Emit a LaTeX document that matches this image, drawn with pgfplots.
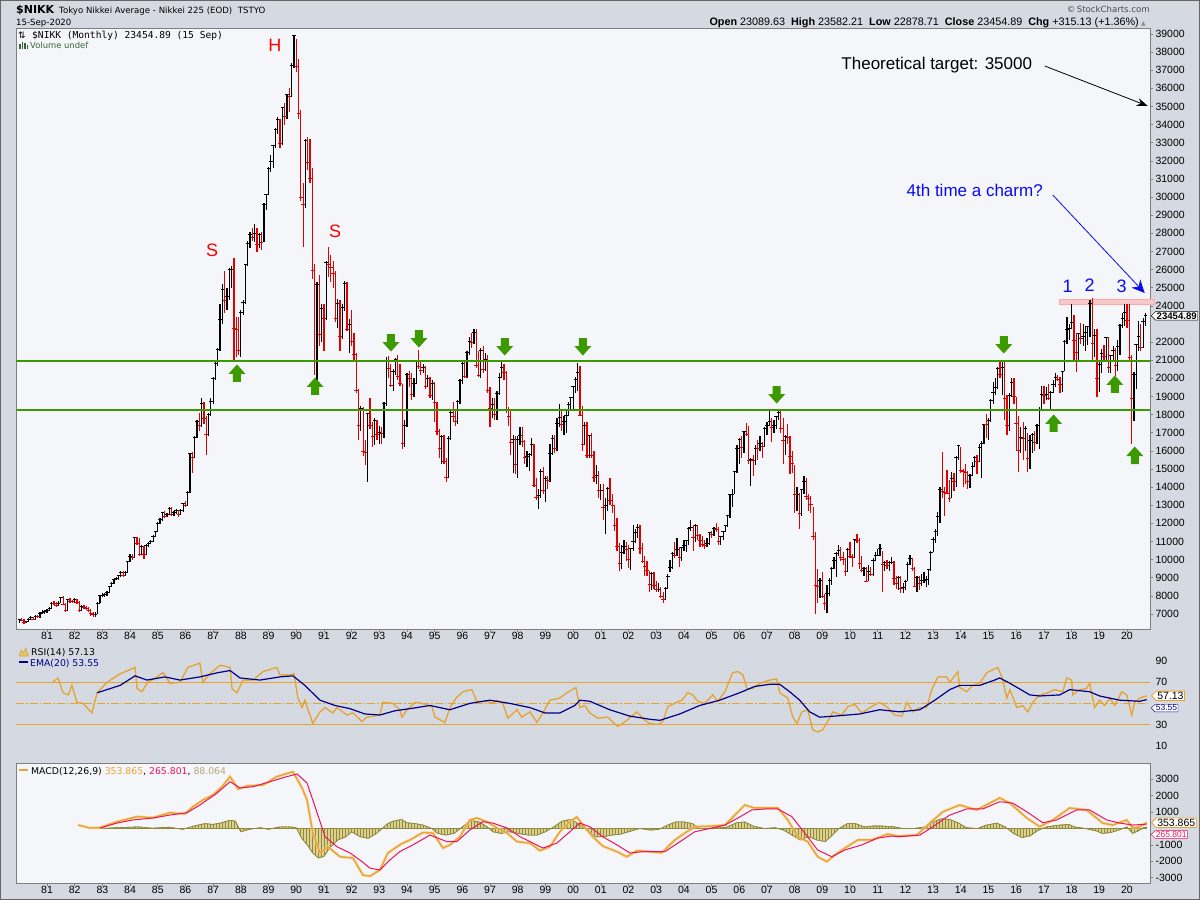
\documentclass[border=0pt]{standalone}
\usepackage{pgfplots}
\pgfplotsset{compat=1.18}
\usepackage{pgfplotstable}
\usepgfplotslibrary{fillbetween}
\usetikzlibrary{shapes.symbols,patterns,arrows.meta}
\usepackage{fontspec}
\setmainfont{Liberation Sans}
\newfontfamily\dejavu{DejaVu Sans}
\newfontfamily\dmono{DejaVu Sans Mono}

\definecolor{outerbg}{HTML}{D5D9E2}
\definecolor{panelbg}{HTML}{F5F6FA}
\definecolor{framec}{HTML}{7F7F7F}
\definecolor{lgreen}{HTML}{3A9A00}
\definecolor{barred}{HTML}{E00000}
\definecolor{rsicol}{HTML}{E6A42E}
\definecolor{rsifill}{HTML}{D8C57C}
\definecolor{emacol}{HTML}{00008B}
\definecolor{macdcol}{HTML}{E8A530}
\definecolor{sigcol}{HTML}{F0125A}
\definecolor{histedge}{HTML}{8F8A3A}
\definecolor{histfill}{HTML}{DDD294}
\definecolor{pinkfill}{HTML}{F7C8CA}
\definecolor{textblue}{HTML}{0A0AF0}
\definecolor{volgreen}{HTML}{336633}

\pgfplotstableread{
Y M H L C D
1980 1 6750 6520 6700 0
1980 2 6780 6600 6670 1
1980 3 6700 6450 6520 1
1980 4 6640 6480 6580 0
1980 5 6760 6550 6700 0
1980 6 6870 6680 6800 0
1980 7 6850 6650 6710 1
1980 8 6920 6690 6860 0
1980 9 6930 6790 6840 1
1980 10 7100 6800 7050 0
1980 11 7200 7000 7110 0
1980 12 7200 7000 7116 0
1981 1 7280 7080 7220 0
1981 2 7400 7180 7320 0
1981 3 7650 7300 7600 0
1981 4 7720 7500 7560 1
1981 5 7640 7400 7450 1
1981 6 7700 7420 7600 0
1981 7 7950 7580 7900 0
1981 8 8020 7500 7550 1
1981 9 7600 7100 7200 1
1981 10 7850 7150 7800 0
1981 11 7900 7620 7700 1
1981 12 7800 7600 7681 1
1982 1 7880 7600 7800 0
1982 2 7850 7560 7650 1
1982 3 7700 7100 7200 1
1982 4 7480 7180 7400 0
1982 5 7500 7300 7350 1
1982 6 7420 7200 7300 1
1982 7 7360 7120 7200 1
1982 8 7250 6900 7050 1
1982 9 7100 6850 6950 1
1982 10 7100 6850 7000 0
1982 11 7650 6980 7600 0
1982 12 8050 7580 8016 0
1983 1 8150 7950 8050 0
1983 2 8150 7950 8060 0
1983 3 8260 8000 8200 0
1983 4 8540 8180 8500 0
1983 5 8760 8480 8700 0
1983 6 8950 8680 8900 0
1983 7 9050 8850 8950 0
1983 8 9150 8900 9100 0
1983 9 9380 9050 9300 0
1983 10 9400 9050 9150 1
1983 11 9380 9100 9300 0
1983 12 9920 9250 9894 0
1984 1 10300 9880 10200 0
1984 2 10300 10000 10100 1
1984 3 11250 10080 11200 0
1984 4 11250 10800 10900 1
1984 5 11190 10200 10300 1
1984 6 10800 10250 10700 0
1984 7 10750 10050 10300 1
1984 8 10850 10250 10800 0
1984 9 10980 10700 10900 0
1984 10 11100 10850 11000 0
1984 11 11380 10950 11300 0
1984 12 11600 11250 11542 0
1985 1 12050 11500 11990 0
1985 2 12300 11950 12200 0
1985 3 12650 12150 12580 0
1985 4 12700 12300 12400 1
1985 5 12600 12350 12500 0
1985 6 12880 12450 12800 0
1985 7 12900 12400 12500 1
1985 8 12700 12400 12600 0
1985 9 12800 12500 12700 0
1985 10 12750 12350 12500 1
1985 11 12800 12450 12700 0
1985 12 13150 12650 13113 0
1986 1 13250 12900 13000 1
1986 2 13800 12950 13700 0
1986 3 15900 13650 15860 0
1986 4 15950 14800 15660 1
1986 5 16800 15600 16760 0
1986 6 17700 16700 17600 0
1986 7 18100 17100 17400 1
1986 8 18900 17300 18600 0
1986 9 18700 17500 17800 1
1986 10 17900 15800 16900 1
1986 11 18100 16800 18000 0
1986 12 18900 17900 18700 0
1987 1 20100 18600 20000 0
1987 2 20900 19900 20800 0
1987 3 21700 20700 21600 0
1987 4 24100 21500 23270 0
1987 5 25200 23000 24900 0
1987 6 25900 23600 24300 1
1987 7 25000 23800 24500 0
1987 8 26100 24300 26000 0
1987 9 26200 25000 26010 0
1987 10 26650 21000 22770 1
1987 11 23400 21200 22690 1
1987 12 23400 21300 21560 1
1988 1 23800 21200 23620 0
1988 2 24300 23500 24200 0
1988 3 26300 24100 26260 0
1988 4 27600 26200 27430 0
1988 5 28100 27200 27920 0
1988 6 28300 27600 27770 1
1988 7 28500 27500 28000 0
1988 8 28300 27000 27370 1
1988 9 28000 27200 27920 0
1988 10 28100 27100 27500 1
1988 11 29700 27500 29580 0
1988 12 30200 29300 30160 0
1989 1 31650 30100 31580 0
1989 2 32300 31400 31980 0
1989 3 32900 31600 32840 0
1989 4 33800 32700 33710 0
1989 5 34400 33500 34270 0
1989 6 34300 32700 32950 1
1989 7 35000 32900 34950 0
1989 8 35200 34000 34430 1
1989 9 35700 34300 35640 0
1989 10 36000 34700 35550 1
1989 11 37400 35500 37270 0
1989 12 38957 37100 38916 0
1990 1 38700 36900 37190 1
1990 2 37600 34300 34590 1
1990 3 34800 29800 29980 1
1990 4 30800 27250 29580 1
1990 5 33200 29400 33130 0
1990 6 33300 31500 31940 1
1990 7 33200 30800 31035 1
1990 8 31600 25500 25980 1
1990 9 26300 20200 20980 1
1990 10 25300 19780 25190 0
1990 11 25700 21800 22450 1
1990 12 24100 22000 23850 0
1991 1 24100 21500 23290 1
1991 2 26500 23200 26410 0
1991 3 27270 25600 26290 1
1991 4 26800 25300 26110 1
1991 5 26500 25000 25790 1
1991 6 25900 23100 23290 1
1991 7 24400 22800 24120 0
1991 8 24300 21500 22340 1
1991 9 24100 22200 23920 0
1991 10 25400 23700 25220 0
1991 11 25300 22600 22690 1
1991 12 23300 21400 22980 0
1992 1 23800 21800 22020 1
1992 2 22500 20900 21340 1
1992 3 21400 19200 19350 1
1992 4 19400 16600 17390 1
1992 5 18500 17100 18350 0
1992 6 18400 15700 15950 1
1992 7 16600 15200 15910 1
1992 8 18100 14310 18060 0
1992 9 18900 17200 17400 1
1992 10 17600 16200 16770 1
1992 11 17800 16300 17680 0
1992 12 17700 16600 16920 1
1993 1 17400 16400 17020 0
1993 2 17300 16400 16950 1
1993 3 18700 16700 18590 0
1993 4 21200 18500 20920 0
1993 5 21250 20000 20550 1
1993 6 20800 19500 19590 1
1993 7 20500 19300 20380 0
1993 8 21150 20200 21030 0
1993 9 21280 19900 20110 1
1993 10 20800 19600 19700 1
1993 11 19700 16080 16410 1
1993 12 17700 16200 17420 0
1994 1 20300 17300 20230 0
1994 2 20400 19500 20000 1
1994 3 20300 18800 19110 1
1994 4 20000 19000 19730 0
1994 5 21000 19700 20970 0
1994 6 21570 20500 20640 1
1994 7 20900 20200 20450 1
1994 8 20800 20300 20630 0
1994 9 20700 19400 19560 1
1994 10 20200 19500 19990 0
1994 11 20100 18900 19080 1
1994 12 19900 18800 19720 0
1995 1 19800 17600 18650 1
1995 2 18700 16900 17050 1
1995 3 17200 15600 16140 1
1995 4 16900 15300 16810 0
1995 5 16900 15300 15440 1
1995 6 15600 14300 14520 1
1995 7 16800 14500 16680 0
1995 8 18200 16600 18120 0
1995 9 18700 17600 17910 1
1995 10 18200 17400 17650 1
1995 11 18800 17500 18740 0
1995 12 19950 18600 19870 0
1996 1 20900 19700 20810 0
1996 2 21000 20000 20130 1
1996 3 21500 20000 21410 0
1996 4 22300 21300 22040 0
1996 5 22500 21700 21960 1
1996 6 22750 21900 22530 0
1996 7 22700 20600 20690 1
1996 8 21500 20100 20170 1
1996 9 21700 20000 21560 0
1996 10 21800 20300 20470 1
1996 11 21400 20400 21020 0
1996 12 21300 19200 19360 1
1997 1 19500 17300 18330 1
1997 2 18900 17800 18560 0
1997 3 18900 17700 18000 1
1997 4 19300 17700 19150 0
1997 5 20300 19100 20070 0
1997 6 20900 20000 20600 0
1997 7 20800 19900 20330 1
1997 8 20400 18100 18230 1
1997 9 18400 17400 17890 1
1997 10 18200 15800 16460 1
1997 11 16900 14800 16640 0
1997 12 16800 14750 15260 1
1998 1 16800 14500 16630 0
1998 2 17300 16300 16830 0
1998 3 17300 16200 16530 1
1998 4 16600 15300 15640 1
1998 5 16000 15100 15670 0
1998 6 15900 14900 15830 0
1998 7 16700 15700 16380 0
1998 8 16400 14000 14110 1
1998 9 14500 13300 13410 1
1998 10 13900 12790 13560 0
1998 11 15000 13400 14880 0
1998 12 15100 13600 13840 1
1999 1 14600 13200 14500 0
1999 2 14600 13900 14370 1
1999 3 16400 14300 15840 0
1999 4 16900 15800 16700 0
1999 5 16900 15900 16110 1
1999 6 17800 16000 17530 0
1999 7 18600 17300 17860 0
1999 8 18300 17100 17440 1
1999 9 17900 16900 17610 0
1999 10 18200 17000 17940 0
1999 11 18700 17900 18560 0
1999 12 19000 18300 18930 0
2000 1 19600 18200 19540 0
2000 2 20100 19200 19960 0
2000 3 20830 19300 20340 0
2000 4 20700 17900 17970 1
2000 5 18500 16000 16330 1
2000 6 17600 16300 17410 0
2000 7 17600 15600 15730 1
2000 8 16900 15600 16860 0
2000 9 17000 15600 15750 1
2000 10 16000 14300 14540 1
2000 11 15200 14200 14650 0
2000 12 14900 13400 13790 1
2001 1 14200 13300 13840 0
2001 2 14200 12200 12880 1
2001 3 13400 11430 13000 0
2001 4 14000 12700 13930 0
2001 5 14500 13000 13260 1
2001 6 13600 12600 12970 1
2001 7 13000 11600 11860 1
2001 8 12300 10500 10710 1
2001 9 10900 9380 9770 1
2001 10 10800 9500 10370 0
2001 11 11100 10300 10700 0
2001 12 11000 9900 10540 1
2002 1 10800 9550 10000 1
2002 2 10600 9420 10590 0
2002 3 11900 10500 11020 0
2002 4 11700 10900 11490 0
2002 5 11980 11200 11760 0
2002 6 11900 10300 10620 1
2002 7 10900 9800 9880 1
2002 8 10200 9070 9620 1
2002 9 9900 9100 9380 1
2002 10 9400 8200 8640 1
2002 11 9300 8300 9220 0
2002 12 9300 8400 8580 1
2003 1 8800 8200 8340 1
2003 2 8700 8200 8360 0
2003 3 8500 7860 7970 1
2003 4 8200 7600 7830 1
2003 5 8500 7800 8420 0
2003 6 9200 8400 9080 0
2003 7 10000 9300 9560 0
2003 8 10400 9500 10340 0
2003 9 11000 10100 10220 1
2003 10 11200 10200 10560 0
2003 11 10700 9600 10100 1
2003 12 10700 9900 10680 0
2004 1 11100 10500 10780 0
2004 2 11100 10400 11040 0
2004 3 11800 10800 11720 0
2004 4 12200 11600 11760 0
2004 5 11900 10500 11240 1
2004 6 11990 11000 11860 0
2004 7 11900 11100 11330 1
2004 8 11400 10700 11080 1
2004 9 11300 10700 10820 1
2004 10 11100 10600 10770 1
2004 11 11200 10700 10900 0
2004 12 11500 10800 11490 0
2005 1 11600 11200 11390 1
2005 2 11800 11300 11740 0
2005 3 12000 11500 11670 1
2005 4 11800 10800 11010 1
2005 5 11300 10800 11280 0
2005 6 11600 11100 11580 0
2005 7 11900 11500 11900 0
2005 8 12450 11800 12410 0
2005 9 13600 12300 13570 0
2005 10 13900 12900 13610 0
2005 11 14900 13600 14870 0
2005 12 16300 14800 16110 0
2006 1 16700 15300 16650 0
2006 2 16800 15600 16210 1
2006 3 17100 15900 17060 0
2006 4 17560 16800 16910 1
2006 5 17400 15300 15470 1
2006 6 15600 14050 15510 0
2006 7 15800 14600 15460 1
2006 8 16300 15200 16140 0
2006 9 16600 15500 16130 1
2006 10 16800 16000 16400 0
2006 11 16500 15600 16270 1
2006 12 17300 16200 17230 0
2007 1 17600 16900 17380 0
2007 2 18300 17400 17600 0
2007 3 17800 16500 17290 1
2007 4 17700 17000 17400 0
2007 5 17900 17200 17880 0
2007 6 18300 17700 18140 0
2007 7 18300 17000 17250 1
2007 8 17800 15270 16570 1
2007 9 16900 15800 16790 0
2007 10 17500 16400 16740 1
2007 11 16800 14700 15680 1
2007 12 16000 14800 15310 1
2008 1 15200 12570 13590 1
2008 2 14000 12700 13600 0
2008 3 13700 11700 12530 1
2008 4 13900 12400 13850 0
2008 5 14600 13600 14340 0
2008 6 14500 13300 13480 1
2008 7 13600 12700 13380 1
2008 8 13500 12600 13070 1
2008 9 12900 11100 11260 1
2008 10 11500 6990 8580 1
2008 11 9500 7600 8510 1
2008 12 9000 7900 8860 0
2009 1 9300 7900 7990 1
2009 2 8100 7200 7570 1
2009 3 8600 7050 8110 0
2009 4 9000 8000 8830 0
2009 5 9600 8600 9520 0
2009 6 10170 9500 9960 0
2009 7 10400 9050 10360 0
2009 8 10800 10200 10490 0
2009 9 10700 9900 10130 1
2009 10 10400 9700 10030 1
2009 11 10100 9080 9350 1
2009 12 10650 9300 10550 0
2010 1 10980 10100 10200 1
2010 2 10300 9600 10130 1
2010 3 11100 10100 11090 0
2010 4 11400 10900 11060 1
2010 5 11200 9500 9770 1
2010 6 10200 9300 9380 1
2010 7 9600 9100 9540 0
2010 8 9600 8800 8820 1
2010 9 9700 8800 9370 0
2010 10 9600 9100 9200 1
2010 11 10100 9100 9940 0
2010 12 10400 9900 10230 0
2011 1 10600 10200 10240 0
2011 2 10860 10200 10620 0
2011 3 10500 8230 9760 1
2011 4 9900 9400 9850 0
2011 5 10000 9500 9690 1
2011 6 9900 9350 9820 0
2011 7 10140 9750 9830 0
2011 8 9900 8600 8960 1
2011 9 9100 8400 8700 1
2011 10 9100 8350 8990 0
2011 11 9100 8140 8430 1
2011 12 8700 8150 8460 0
2012 1 8900 8300 8800 0
2012 2 9870 8800 9720 0
2012 3 10250 9700 10080 0
2012 4 10100 9400 9520 1
2012 5 9600 8500 8540 1
2012 6 9100 8240 9010 0
2012 7 9100 8350 8700 1
2012 8 9200 8550 8840 0
2012 9 9290 8700 8870 0
2012 10 9100 8500 8930 0
2012 11 9500 8600 9450 0
2012 12 10450 9400 10400 0
2013 1 11250 10400 11140 0
2013 2 11700 10900 11560 0
2013 3 12650 11300 12400 0
2013 4 14000 12000 13860 0
2013 5 15940 13400 13770 1
2013 6 14000 12400 13680 1
2013 7 14950 13600 13670 1
2013 8 14400 13200 13390 1
2013 9 14820 13400 14460 0
2013 10 14800 13800 14330 1
2013 11 15700 14000 15660 0
2013 12 16320 15500 16290 0
2014 1 16200 14800 14910 1
2014 2 15000 13990 14840 1
2014 3 15300 14200 14830 1
2014 4 14900 13900 14300 1
2014 5 14700 13960 14630 0
2014 6 15400 14600 15160 0
2014 7 15700 15100 15620 0
2014 8 15800 14750 15420 1
2014 9 16380 15400 16170 0
2014 10 16550 14530 16410 0
2014 11 17500 16400 17460 0
2014 12 18030 16700 17450 1
2015 1 17800 16600 17670 0
2015 2 18850 17600 18800 0
2015 3 19800 18600 19210 0
2015 4 20000 19100 19520 0
2015 5 20650 19400 20560 0
2015 6 20950 20000 20240 1
2015 7 20900 19100 20590 0
2015 8 20950 17700 18890 1
2015 9 19100 16900 17390 1
2015 10 19200 17100 19080 0
2015 11 20000 19000 19750 0
2015 12 20000 18600 19030 1
2016 1 18950 16000 17520 1
2016 2 17900 14860 16030 1
2016 3 17300 15900 16760 0
2016 4 17600 15500 16670 1
2016 5 17400 16000 17230 0
2016 6 17000 14860 15580 1
2016 7 16900 15000 16570 0
2016 8 17000 15900 16890 0
2016 9 17100 16000 16450 1
2016 10 17500 16400 17430 0
2016 11 18400 16100 18310 0
2016 12 19600 18300 19110 0
2017 1 19600 18600 19040 1
2017 2 19500 18800 19120 0
2017 3 19700 18800 18910 1
2017 4 19300 18200 19200 0
2017 5 19900 19200 19650 0
2017 6 20300 19500 20030 0
2017 7 20200 19900 19930 1
2017 8 20100 19200 19650 1
2017 9 20400 19250 20360 0
2017 10 22100 20400 22010 0
2017 11 23380 21900 22720 0
2017 12 23000 22100 22760 0
2018 1 24130 22700 23100 0
2018 2 23500 20950 22070 1
2018 3 22500 20350 21450 1
2018 4 22500 21000 22470 0
2018 5 23050 21900 22200 1
2018 6 23000 21800 22300 0
2018 7 22900 21500 22550 0
2018 8 22900 21850 22870 0
2018 9 24300 22300 24120 0
2018 10 24450 20970 21920 1
2018 11 22700 21200 22350 0
2018 12 22700 18950 20010 1
2019 1 20900 19240 20770 0
2019 2 21600 20300 21390 0
2019 3 21860 20900 21210 1
2019 4 22300 21000 22260 0
2019 5 22300 20300 20600 1
2019 6 21300 20300 21280 0
2019 7 21800 21000 21520 0
2019 8 21700 20110 20700 1
2019 9 22100 20400 21760 0
2019 10 22980 21300 22930 0
2019 11 23600 22800 23290 0
2019 12 24100 22900 23660 0
2020 1 24120 22800 23210 1
2020 2 24080 20900 21140 1
2020 3 21300 16360 18920 1
2020 4 20370 17650 20190 0
2020 5 21900 19400 21880 0
2020 6 23180 21500 22290 0
2020 7 23000 21500 21710 1
2020 8 23340 21700 23140 0
2020 9 23582 22880 23455 0
}\price

\pgfplotstableread{
x v
1981.22 70.5
1981.40 74
1981.58 60
1981.77 58
1981.90 67
1982.08 51
1982.30 50
1982.62 41
1982.81 60
1983.17 70
1983.64 78
1983.92 81
1984.18 84
1984.25 64
1984.43 61
1984.61 69
1984.97 75
1985.19 79
1985.44 69
1985.80 70
1986.09 84
1986.52 88
1986.63 70
1986.88 78
1987.25 86
1987.61 84
1987.68 64
1987.86 60
1988.08 72
1988.44 72
1988.80 80
1989.30 84
1989.41 77
1989.77 77
1989.92 78
1990.06 55
1990.21 46
1990.31 53
1990.60 31
1990.86 42
1991.04 46
1991.32 41
1991.47 46
1991.83 39
1992.05 41
1992.37 33
1992.55 37
1993.02 39
1993.13 51
1993.49 50
1993.74 44
1993.82 37
1994.00 44
1994.29 51
1994.54 50
1994.90 47
1995.01 37
1995.37 32
1995.55 46
1995.80 56
1996.02 61
1996.34 63
1996.52 52
1996.88 52
1997.06 50
1997.25 53
1997.46 50
1997.64 36
1997.97 44
1998.15 37
1998.44 42
1998.69 32
1998.91 41
1999.16 53
1999.52 55
1999.77 60
2000.10 65
2000.24 46
2000.42 48
2000.60 41
2000.89 36
2001.25 37
2001.61 28
2001.94 34
2002.30 42
2002.59 34
2002.77 31
2003.06 30
2003.24 33
2003.42 47
2003.74 51
2003.92 53
2004.14 60
2004.32 58
2004.50 52
2004.75 50
2005.04 58
2005.22 52
2005.48 61
2005.76 79
2005.95 80
2006.13 77
2006.27 64
2006.49 64
2006.74 69
2007.10 72
2007.35 73
2007.46 60
2007.75 55
2007.93 37
2008.08 31
2008.26 42
2008.47 44
2008.65 25
2008.83 23
2009.01 25
2009.19 33
2009.38 42
2009.70 39
2009.92 47
2010.17 49
2010.42 41
2010.78 47
2011.07 51
2011.36 46
2011.61 39
2011.87 38
2012.05 51
2012.26 42
2012.52 46
2012.77 46
2012.95 63
2013.17 75
2013.49 75
2013.60 70
2013.89 80
2013.96 65
2014.21 61
2014.43 67
2014.68 69
2014.94 79
2015.33 84
2015.48 75
2015.66 55
2015.77 63
2016.02 46
2016.23 48
2016.42 42
2016.60 51
2016.85 58
2017.14 60
2017.39 63
2017.68 61
2017.82 74
2018.00 72
2018.04 58
2018.29 63
2018.54 64
2018.65 69
2018.83 46
2019.01 53
2019.19 48
2019.38 55
2019.56 48
2019.81 61
2019.99 58
2020.17 39
2020.28 51
2020.46 55
2020.71 57.13
}\rsi

\pgfplotstableread{
x v
1982.81 60
1983.64 67
1984.18 76
1984.61 72
1985.26 75
1985.80 72
1986.52 75
1987.17 79
1987.61 81
1987.97 74
1988.69 72
1989.41 75
1989.88 76
1990.31 67
1990.86 53
1991.40 48
1991.94 45
1992.48 40
1993.02 39
1993.56 43
1994.10 45
1994.83 48
1995.55 44
1996.27 50
1996.99 53
1997.71 50
1998.44 46
1998.98 41
1999.52 41
2000.06 48
2000.24 53
2000.60 52
2001.32 44
2002.04 38
2002.77 35
2003.13 34
2003.85 40
2004.57 48
2005.29 53
2006.01 60
2006.56 66
2007.10 68
2007.46 68
2007.82 61
2008.18 53
2008.54 42
2008.90 37
2009.44 38
2010.35 40
2011.07 44
2011.79 42
2012.52 44
2013.06 53
2013.60 63
2013.96 67
2014.68 67
2015.22 72
2015.40 74
2015.77 69
2016.49 58
2016.85 57
2017.57 58
2017.93 63
2018.65 61
2019.01 57
2019.74 53
2020.46 52
2020.71 53.55
}\ema

\pgfplotstableread{
x v
1982.12 213
1982.55 30
1982.91 50
1983.53 415
1984.25 720
1984.83 660
1985.44 963
1985.98 884
1986.27 1330
1986.63 1740
1986.99 2040
1987.32 2550
1987.61 3160
1987.90 2400
1988.22 2590
1988.80 2650
1989.30 3160
1989.88 3460
1990.21 2470
1990.39 1740
1990.60 -270
1990.86 -1490
1991.14 -1110
1991.58 -1720
1992.05 -1800
1992.41 -2840
1992.66 -2900
1993.02 -2530
1993.31 -1490
1993.78 -950
1994.10 -700
1994.57 -250
1994.94 -280
1995.30 -1190
1995.55 -1000
1995.91 -500
1996.27 520
1996.52 640
1996.88 415
1997.25 30
1997.61 -270
1997.97 -800
1998.44 -890
1998.80 -1350
1999.16 -1110
1999.52 -200
1999.88 415
2000.13 700
2000.35 210
2000.71 -500
2001.07 -1070
2001.58 -1410
2001.94 -1720
2002.30 -1350
2002.77 -1410
2003.20 -1480
2003.67 -700
2004.03 -280
2004.39 110
2005.01 150
2005.48 210
2005.84 820
2006.20 1430
2006.56 1250
2007.03 1250
2007.39 1250
2007.75 520
2008.11 -500
2008.47 -800
2008.83 -1720
2009.16 -2020
2009.45 -1620
2009.81 -1190
2010.28 -700
2010.78 -700
2011.36 -340
2011.72 -460
2012.41 -400
2012.88 330
2013.35 1020
2013.96 1430
2014.57 1130
2015.40 1860
2015.77 1550
2016.38 640
2016.85 110
2017.32 520
2017.93 1250
2018.54 1130
2019.12 330
2019.48 210
2019.99 520
2020.21 30
2020.46 110
2020.71 353.865
}\macd

\pgfplotstableread{
x v
1982.91 30
1983.53 335
1984.10 520
1984.83 640
1985.44 820
1986.05 963
1986.52 1430
1987.14 2160
1987.61 2850
1987.97 2470
1988.44 2550
1989.05 2850
1989.66 3160
1990.03 3320
1990.39 2770
1990.68 1330
1991.04 -500
1991.47 -1110
1991.94 -1490
1992.30 -1920
1992.66 -2410
1993.02 -2530
1993.38 -1920
1993.74 -1410
1994.21 -1000
1994.83 -400
1995.44 -800
1995.80 -800
1996.27 -90
1996.74 415
1997.10 330
1997.61 30
1998.08 -500
1998.55 -890
1998.91 -1190
1999.41 -890
1999.88 -200
2000.24 330
2000.60 110
2001.07 -500
2001.58 -1000
2002.05 -1490
2002.52 -1410
2003.31 -1410
2003.78 -890
2004.39 -200
2005.01 30
2005.48 210
2005.95 640
2006.45 1130
2006.92 1190
2007.39 1190
2007.90 720
2008.36 -270
2008.83 -1310
2009.34 -1720
2009.81 -1310
2010.42 -1000
2011.00 -580
2011.51 -460
2011.79 -500
2012.52 -400
2012.99 110
2013.60 820
2014.21 1190
2014.79 1190
2015.40 1630
2015.87 1550
2016.38 1020
2016.96 350
2017.46 520
2018.18 1130
2018.65 1130
2019.27 520
2019.74 330
2020.21 210
2020.71 265.8
}\signal

\pgfplotstableread{
x v
1982.9 0
1983.5 50
1984.3 100
1984.8 20
1985.4 80
1985.9 -50
1986.3 150
1986.7 300
1987.0 250
1987.3 350
1987.6 500
1987.8 450
1988.0 -200
1988.3 -50
1988.7 50
1989.0 -50
1989.4 100
1989.8 100
1990.0 50
1990.2 -600
1990.4 -1000
1990.6 -1500
1990.8 -1800
1991.0 -1700
1991.2 -1200
1991.5 -700
1991.8 -500
1992.0 -200
1992.3 -500
1992.6 -600
1992.9 -300
1993.1 0
1993.3 300
1993.5 450
1993.8 550
1994.0 350
1994.3 300
1994.6 200
1994.9 0
1995.1 -300
1995.4 -400
1995.7 -300
1996.0 100
1996.3 500
1996.6 400
1996.9 100
1997.1 -200
1997.4 -300
1997.7 -200
1998.0 -300
1998.4 -400
1998.7 -400
1999.0 -200
1999.3 100
1999.6 450
1999.9 550
2000.2 300
2000.5 -100
2000.8 -500
2001.1 -500
2001.4 -400
2001.7 -350
2002.0 -200
2002.4 0
2002.8 -100
2003.1 -50
2003.4 200
2003.7 400
2004.0 400
2004.3 300
2004.6 0
2004.9 0
2005.2 100
2005.5 50
2005.9 350
2006.2 400
2006.5 150
2006.9 0
2007.3 50
2007.6 -100
2007.9 -400
2008.2 -700
2008.5 -500
2008.8 -700
2009.1 -800
2009.3 -500
2009.6 0
2009.9 300
2010.2 300
2010.5 100
2010.8 150
2011.2 150
2011.6 100
2011.9 0
2012.3 0
2012.7 100
2013.0 400
2013.3 600
2013.6 550
2013.9 350
2014.2 50
2014.6 0
2014.9 200
2015.3 330
2015.6 100
2015.9 -300
2016.2 -550
2016.5 -450
2016.8 -100
2017.1 100
2017.5 200
2017.9 250
2018.1 100
2018.5 0
2018.9 -150
2019.1 -300
2019.4 -250
2019.7 -100
2020.0 100
2020.2 -300
2020.4 -150
2020.6 50
2020.71 88
}\hist

\newcommand{\uparr}[2]{\fill[lgreen] (axis cs:#1,#2) ++(-4pt,-9pt) -- ++(8pt,0pt) -- ++(0pt,8pt) -- ++(4.5pt,0pt) -- ++(-8.5pt,9.5pt) -- ++(-8.5pt,-9.5pt) -- ++(4.5pt,0pt) -- cycle;}
\newcommand{\dnarr}[2]{\fill[lgreen] (axis cs:#1,#2) ++(-4pt,9pt) -- ++(8pt,0pt) -- ++(0pt,-8pt) -- ++(4.5pt,0pt) -- ++(-8.5pt,-9.5pt) -- ++(-8.5pt,9.5pt) -- ++(4.5pt,0pt) -- cycle;}

\pgfplotsset{
  chartpanel/.style={
    scale only axis, width=1134pt, anchor=north west,
    xmin=1979.88, xmax=2020.83,
    axis background/.style={fill=panelbg},
    axis line style={framec, line width=0.9pt},
    clip mode=individual,
    tick align=outside, major tick length=3pt,
    tick style={framec, line width=0.6pt},
    ytick pos=right, yticklabel pos=right,
    xtick pos=lower,
    xtick={1981,1982,...,2020},
    ticklabel style={font=\fontsize{10.5}{11}\selectfont, text=black},
    /pgf/number format/assume math mode=true,
    /pgf/number format/1000 sep={},
    scaled y ticks=false,
    yticklabel style={xshift=-1pt},
  },
  yearlabels/.style={
    xticklabels={81,82,83,84,85,86,87,88,89,90,91,92,93,94,95,96,97,98,99,00,01,02,03,04,05,06,07,08,09,10,11,12,13,14,15,16,17,18,19,20},
    xticklabel style={anchor=center, yshift=-3.5pt},
  },
}

\begin{document}
\begin{tikzpicture}
\fill[outerbg] (0pt,0pt) rectangle (1200pt,-900pt);

% ---------- main price panel ----------
\begin{axis}[chartpanel, yearlabels, at={(16pt,-28pt)}, height=601pt,
  ymin=6172, ymax=39331,
  ytick={7000,8000,9000,10000,11000,12000,13000,14000,15000,16000,17000,18000,19000,20000,21000,22000,24000,25000,26000,27000,28000,29000,30000,31000,32000,33000,34000,35000,36000,37000,38000,39000},
]
\fill[pinkfill] (axis cs:2017.54,24100) rectangle (axis cs:2021.0,24350);
\draw[red!35, line width=0.5pt] (axis cs:2017.54,24100) rectangle (axis cs:2021.0,24350);

\addplot[black, only marks, mark=-, mark size=1.8pt, mark options={line width=0.9pt},
  restrict expr to domain={\thisrow{D}}{-0.5:0.5},
  error bars/.cd, y dir=both, y explicit, error mark=none,
  error bar style={line width=1.2pt, black}]
  table[x expr={\thisrow{Y}+(\thisrow{M}-1)/12}, y=C,
        y error plus expr={\thisrow{H}-\thisrow{C}},
        y error minus expr={\thisrow{C}-\thisrow{L}}] {\price};
\addplot[barred, only marks, mark=-, mark size=1.8pt, mark options={line width=0.9pt},
  restrict expr to domain={\thisrow{D}}{0.5:1.5},
  error bars/.cd, y dir=both, y explicit, error mark=none,
  error bar style={line width=1.2pt, barred}]
  table[x expr={\thisrow{Y}+(\thisrow{M}-1)/12}, y=C,
        y error plus expr={\thisrow{H}-\thisrow{C}},
        y error minus expr={\thisrow{C}-\thisrow{L}}] {\price};

\draw[lgreen, line width=2.4pt] (axis cs:1979.88,20950) -- (axis cs:2020.83,20950);
\draw[lgreen, line width=2.4pt] (axis cs:1979.88,18250) -- (axis cs:2020.83,18250);

\uparr{1987.86}{20300}
\uparr{1990.68}{19580}
\uparr{2017.35}{17540}
\uparr{2019.56}{19690}
\uparr{2020.28}{15770}
\dnarr{1993.42}{21950}
\dnarr{1994.43}{22170}
\dnarr{1997.53}{21730}
\dnarr{2000.35}{21730}
\dnarr{2007.35}{19080}
\dnarr{2015.55}{21840}

\node[text=red, font=\fontsize{18}{18}\selectfont] at (axis cs:1989.23,38400) {H};
\node[text=red, font=\fontsize{18}{18}\selectfont] at (axis cs:1986.96,27080) {S};
\node[text=red, font=\fontsize{18}{18}\selectfont] at (axis cs:1991.40,28130) {S};
\node[text=black, font=\fontsize{17}{17}\selectfont] at (axis cs:2013.13,37290) {Theoretical target: 35000};
\draw[black, line width=0.8pt, -{Stealth[length=11pt,width=8pt]}] (axis cs:2017.03,37234) -- (axis cs:2020.75,35028);
\node[text=textblue, font=\fontsize{17}{17}\selectfont] at (axis cs:2014.50,30390) {4th time a charm?};
\draw[textblue, line width=0.8pt, -{Stealth[length=13pt,width=12pt]}] (axis cs:2017.32,30117) -- (axis cs:2020.64,24710);
\node[text=textblue, font=\fontsize{18}{18}\selectfont] at (axis cs:2017.86,25100) {1};
\node[text=textblue, font=\fontsize{18}{18}\selectfont] at (axis cs:2018.65,25150) {2};
\node[text=textblue, font=\fontsize{18}{18}\selectfont] at (axis cs:2019.81,25100) {3};
\coordinate (pricetag) at (axis cs:2020.83,23454.89);
\end{axis}

% ---------- RSI panel ----------
\begin{axis}[chartpanel, at={(16pt,-643pt)}, height=120pt,
  ymin=-6.3, ymax=107, ytick={10,30,70,90}, xticklabels={}, xtick style={draw=none},
]
\addplot[name path=rsi, rsicol, line width=1pt] table[x=x,y=v] {\rsi};
\addplot[name path=h70, draw=none] coordinates {(1979.88,70) (2020.83,70)};
\addplot[name path=h30, draw=none] coordinates {(1979.88,30) (2020.83,30)};
\addplot[rsifill] fill between[of=rsi and h70, soft clip={domain y=70:120}];
\addplot[rsifill] fill between[of=rsi and h30, soft clip={domain y=-20:30}];
\draw[rsicol, line width=1pt] (axis cs:1979.88,70) -- (axis cs:2020.83,70);
\draw[rsicol, line width=1pt] (axis cs:1979.88,30) -- (axis cs:2020.83,30);
\draw[rsicol, line width=0.8pt, dash pattern=on 8pt off 2pt on 1.5pt off 2pt] (axis cs:1979.88,50) -- (axis cs:2020.83,50);
\addplot[rsicol, line width=1pt] table[x=x,y=v] {\rsi};
\addplot[emacol, line width=1.2pt] table[x=x,y=v] {\ema};
\coordinate (rsitag) at (axis cs:2020.83,57.13);
\end{axis}

% ---------- MACD panel ----------
\begin{axis}[chartpanel, yearlabels, at={(16pt,-763pt)}, height=120pt,
  ymin=-3320, ymax=3990, ytick={-3000,-2000,-1000,1000,2000,3000},
]
\addplot[draw=histedge, line width=0.6pt, fill=histfill,
  postaction={pattern=vertical lines, pattern color=histedge}]
  table[x=x,y=v] {\hist} \closedcycle;
\addplot[macdcol!45, line width=3.2pt, opacity=0.6] table[x=x,y=v] {\macd};
\addplot[macdcol, line width=1.5pt] table[x=x,y=v] {\macd};
\addplot[sigcol, line width=1pt] table[x=x,y=v] {\signal};
\coordinate (macdtag) at (axis cs:2020.83,353.865);
\end{axis}

% ---------- value tags ----------
\node[signal, signal to=west, draw=black, fill=white, anchor=west, inner sep=1pt,
  font=\bfseries\fontsize{9.6}{10}\selectfont] at ([xshift=1pt]pricetag) {23454.89};
\node[signal, signal to=west, draw=emacol, fill=white, anchor=west, inner sep=0.8pt,
  text=emacol, font=\fontsize{8.5}{9}\selectfont] at ([xshift=1pt,yshift=-12.2pt]rsitag) {53.55};
\node[signal, signal to=west, draw=rsicol, line width=0.8pt, fill=white, anchor=west, inner sep=1pt,
  font=\fontsize{10.5}{11}\selectfont] at ([xshift=1pt]rsitag) {57.13};
\node[signal, signal to=west, draw=sigcol, fill=white, anchor=west, inner sep=0.8pt,
  text=sigcol, font=\fontsize{8.5}{9}\selectfont] at ([xshift=1pt,yshift=-11.8pt]macdtag) {265.801};
\node[signal, signal to=west, draw=macdcol, line width=0.8pt, fill=white, anchor=west, inner sep=1pt,
  font=\fontsize{10.5}{11}\selectfont] at ([xshift=1pt]macdtag) {353.865};

% ---------- header ----------
\node[anchor=base west, inner sep=0pt, font=\dejavu\bfseries\fontsize{11}{11}\selectfont] at (16pt,-13pt) {\$NIKK};
\node[anchor=base west, inner sep=0pt, font=\dejavu\fontsize{8.6}{9}\selectfont] at (59pt,-13pt) {Tokyo Nikkei Average - Nikkei 225 (EOD)\ \ TSTYO};
\node[anchor=base west, inner sep=0pt, font=\dejavu\fontsize{8.6}{9}\selectfont] at (16pt,-25.5pt) {15-Sep-2020};
\node[anchor=base east, inner sep=0pt, text=black!70, font=\dejavu\fontsize{8.6}{9}\selectfont] at (1150pt,-12.5pt) {\textcopyright\,StockCharts.com};
\node[anchor=base east, inner sep=0pt, font=\fontsize{10.8}{11}\selectfont] at (1139pt,-25.5pt)
  {\textbf{Open} 23089.63\ \ \textbf{High} 23582.21\ \ \textbf{Low} 22878.71\ \ \textbf{Close} 23454.89\ \ \textbf{Chg} +315.13 (+1.36\%)};
\node[anchor=base west, inner sep=0pt, text=black!45, font=\dejavu\fontsize{6}{6}\selectfont] at (1141pt,-25pt) {▲};

% ---------- panel legends ----------
\node[anchor=base west, inner sep=0pt, font=\dejavu\fontsize{9}{9}\selectfont] at (18pt,-38pt) {⇅};
\node[anchor=base west, inner sep=0pt, font=\dmono\fontsize{9.6}{10}\selectfont] at (32pt,-38pt) {\$NIKK (Monthly) 23454.89 (15 Sep)};
\fill[volgreen] (19pt,-48.5pt) rectangle (20.6pt,-44pt);
\fill[volgreen] (21.6pt,-48.5pt) rectangle (23.2pt,-42pt);
\fill[volgreen] (24.2pt,-48.5pt) rectangle (25.8pt,-43pt);
\fill[volgreen] (26.8pt,-48.5pt) rectangle (28.4pt,-45pt);
\node[anchor=base west, inner sep=0pt, text=volgreen, font=\dejavu\fontsize{8.4}{9}\selectfont] at (30pt,-48.5pt) {Volume undef};

\fill[rsifill, draw=rsicol, line width=0.6pt] (19pt,-656pt) -- (21pt,-650pt) -- (23.5pt,-652.5pt) -- (26pt,-648pt) -- (28.5pt,-656pt) -- cycle;
\node[anchor=base west, inner sep=0pt, font=\dejavu\fontsize{9.3}{10}\selectfont] at (31pt,-655.5pt) {RSI(14) 57.13};
\draw[emacol, line width=1.6pt] (19pt,-662pt) -- (28pt,-662pt);
\node[anchor=base west, inner sep=0pt, text=emacol, font=\dejavu\fontsize{9.3}{10}\selectfont] at (30pt,-666.5pt) {EMA(20) 53.55};

\draw[macdcol, line width=1.6pt] (19pt,-770pt) -- (28pt,-770pt);
\node[anchor=base west, inner sep=0pt, font=\dejavu\fontsize{9.3}{10}\selectfont] at (31pt,-774pt)
  {MACD(12,26,9) \textcolor{macdcol}{353.865}, \textcolor{sigcol}{265.801}, \textcolor{histfill!80!black}{88.064}};

\draw[black!60, line width=1pt] (0.5pt,-0.5pt) rectangle (1199.5pt,-899.5pt);
\pgfresetboundingbox
\useasboundingbox (0pt,0pt) rectangle (1200pt,-900pt);
\end{tikzpicture}
\end{document}
